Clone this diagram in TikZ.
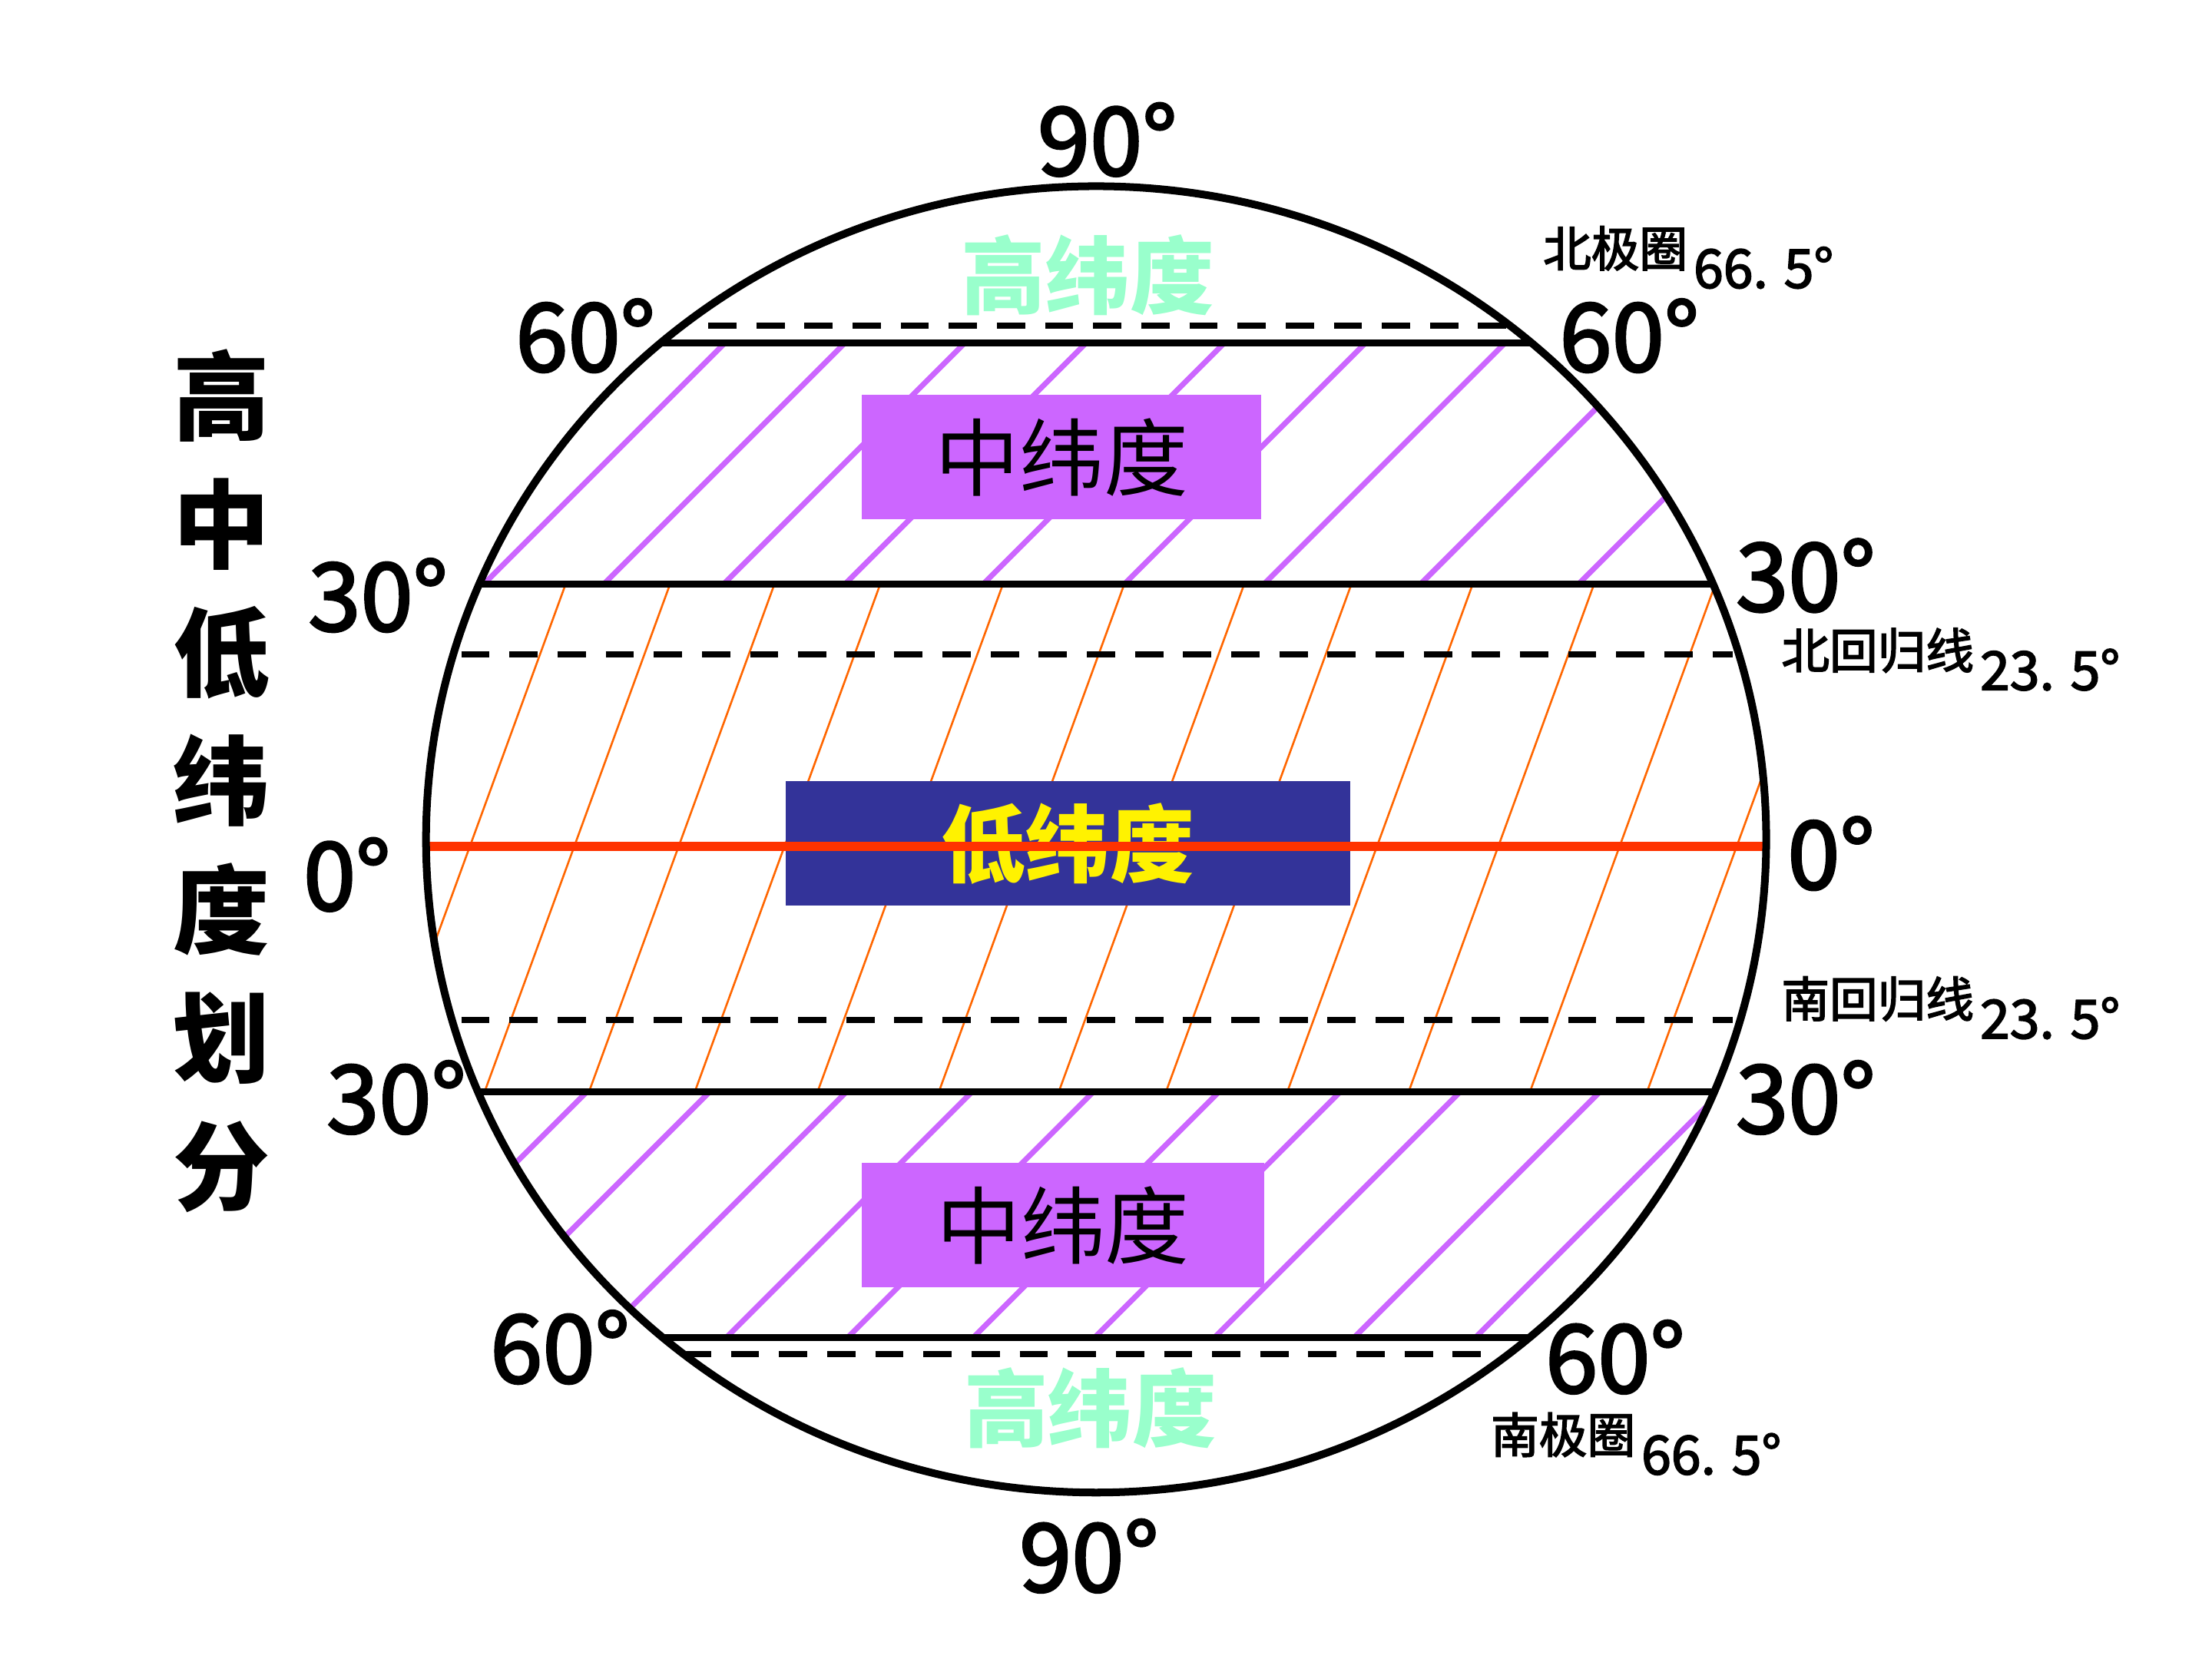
\documentclass[tikz,border=0pt]{standalone}
\usepackage{fontspec}
\newfontfamily\cjk{Noto Sans CJK SC}
\newfontfamily\cjkmed[FakeBold=2.5]{Noto Sans CJK SC}
\usetikzlibrary{positioning}
\definecolor{midpurple}{HTML}{CC66FF}
\definecolor{lowline}{HTML}{FF6600}
\definecolor{equator}{HTML}{FF3300}
\definecolor{lowblue}{HTML}{333399}
\definecolor{highgreen}{HTML}{99FFCC}

\begin{document}
\begin{tikzpicture}[x=0.01cm, y=-0.01cm,
    zone/.style={line width=1.35pt},
    tropic/.style={line width=1.3pt, dash pattern=on 5.7pt off 4pt},
    midhatch/.style={midpurple, line width=1.1pt},
    lowhatch/.style={lowline, line width=0.4pt},
    zonebox/.style={inner sep=0pt, minimum height=0.88cm},
    deg/.style={font=\cjkmed\fontsize{19}{22}\selectfont, inner sep=0pt},
    circlename/.style={font=\cjkmed\fontsize{9.7}{11}\selectfont, inner sep=0pt},
    circledeg/.style={font=\cjkmed\fontsize{10.8}{13}\selectfont, inner sep=0pt}]
  \useasboundingbox (0,0) rectangle (1568,1176);

  \begin{scope}
    \clip (777,595) ellipse [x radius=475, y radius=463];
    \begin{scope}
      \clip (290,243) rectangle (1270,414);
      \foreach \c in {757,842,927,1013,1111,1211,1310,1421,1533}
        \draw[midhatch] (\c-243,243) -- (\c-414,414);
    \end{scope}
    \begin{scope}
      \clip (290,774) rectangle (1270,948);
      \foreach \c in {1190,1277,1374,1463,1549,1638,1724,1809,1908,1994}
        \draw[midhatch] (\c-774,774) -- (\c-948,948);
    \end{scope}
    \foreach \e in {333,407,481,556,643,729,814,890,976,1062,1148,1231}
      \draw[lowhatch] (\e+68,414) -- (\e-63.5,774);
  \end{scope}

  \node[zonebox, fill=midpurple, minimum width=2.83cm, font=\cjk\fontsize{17}{20}\selectfont]
    (midN) at (752.5,324) {中纬度};
  \node[zonebox, fill=midpurple, minimum width=2.85cm, font=\cjk\fontsize{17}{20}\selectfont]
    (midS) at (753.5,868.5) {中纬度};
  \node[zonebox, fill=lowblue, text=yellow, minimum width=4cm, font=\cjk\bfseries\fontsize{17}{20}\selectfont]
    (low) at (757,598) {低纬度};
  \node[text=highgreen, font=\cjk\bfseries\fontsize{17}{20}\selectfont] (highN) at (771,195) {高纬度};
  \node[text=highgreen, font=\cjk\bfseries\fontsize{17}{20}\selectfont] (highS) at (773,998) {高纬度};

  \coordinate (n60w) at (469,243);  \coordinate (n60e) at (1085,243);
  \coordinate (n30w) at (340,414);  \coordinate (n30e) at (1214,414);
  \coordinate (s30w) at (339,774);  \coordinate (s30e) at (1215,774);
  \coordinate (s60w) at (470,948);  \coordinate (s60e) at (1084,948);
  \coordinate (acw) at (502,231);   \coordinate (ace) at (1068,231);
  \coordinate (tcw) at (327,464);   \coordinate (tce) at (1228,464);
  \coordinate (tpw) at (327,723);   \coordinate (tpe) at (1228,723);
  \coordinate (anw) at (484,960);   \coordinate (ane) at (1062,960);
  \coordinate (eqw) at (304,600);   \coordinate (eqe) at (1250,600);

  \draw[zone] (n60w) -- (n60e);
  \draw[zone] (n30w) -- (n30e);
  \draw[zone] (s30w) -- (s30e);
  \draw[zone] (s60w) -- (s60e);
  \draw[tropic] (acw) -- (ace);
  \draw[tropic] (tcw) -- (tce);
  \draw[tropic] (tpw) -- (tpe);
  \draw[tropic] (anw) -- (ane);
  \draw[equator, line width=1.8pt] (eqw) -- (eqe);

  \draw[line width=1.55pt] (777,595) ellipse [x radius=475, y radius=463];

  \node[deg] (d90n) at (785,99) {90°};
  \node[deg] (d60nw) at (415,238) {60°};
  \node[deg] (d60ne) at (1155,238) {60°};
  \node[deg] (d30nw) at (268,422) {30°};
  \node[deg] (d30ne) at (1280,408) {30°};
  \node[deg] (d0w) at (246,620) {0°};
  \node[deg] (d0e) at (1298,605) {0°};
  \node[deg] (d30sw) at (281,778) {30°};
  \node[deg] (d30se) at (1280,778) {30°};
  \node[deg] (d60sw) at (397,955) {60°};
  \node[deg] (d60se) at (1145,962) {60°};
  \node[deg] (d90s) at (772,1103) {90°};

  \node[circlename] (arctic) at (1145,176) {北极圈};
  \node[circledeg, base right=0.3mm of arctic, yshift=-4.3pt] (arcticdeg) {66. 5°};
  \node[circlename] (cancer) at (1331,461) {北回归线};
  \node[circledeg, base right=0.3mm of cancer, yshift=-4.3pt] (cancerdeg) {23. 5°};
  \node[circlename] (capric) at (1331,708) {南回归线};
  \node[circledeg, base right=0.3mm of capric, yshift=-4.3pt] (capricdeg) {23. 5°};
  \node[circlename] (antarc) at (1108,1017) {南极圈};
  \node[circledeg, base right=0.3mm of antarc, yshift=-4.3pt] (antarcdeg) {66. 5°};

  \node[font=\cjk\bfseries\fontsize{19.5}{25.9}\selectfont, align=center, inner sep=0pt]
    (title) at (157,553.5) {高\\中\\低\\纬\\度\\划\\分};
\end{tikzpicture}
\end{document}
